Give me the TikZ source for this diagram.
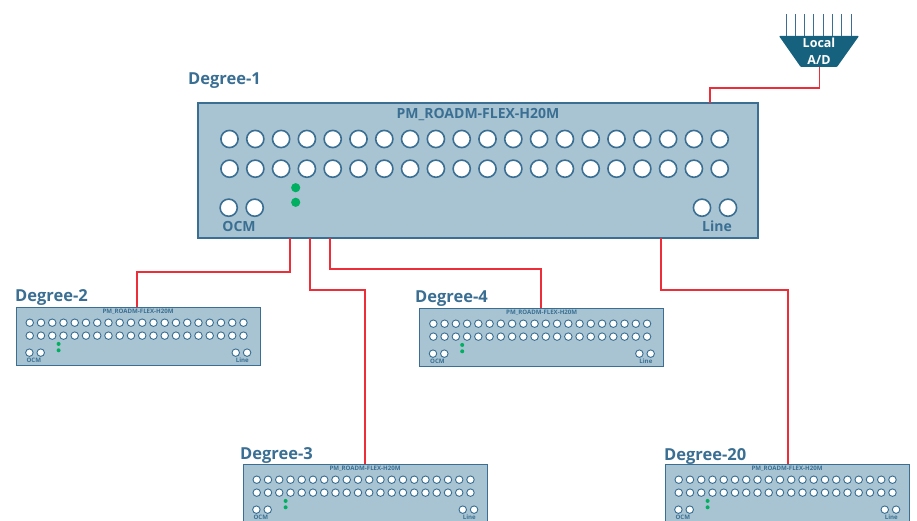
\documentclass[tikz,border=0pt]{standalone}
\usepackage{fontspec}
\setmainfont{Open Sans}
\definecolor{cardfill}{HTML}{A8C4D2}
\definecolor{cardedge}{HTML}{3A6F93}
\definecolor{muxfill}{HTML}{16627E}
\definecolor{fibrered}{HTML}{ED2E38}
\definecolor{ledgreen}{HTML}{00B060}
\tikzset{
  cardbox/.style={draw=cardedge, fill=cardfill, minimum width=560, minimum height=135,
    inner sep=0pt, outer sep=0pt, transform shape},
  cardtext/.style={text=cardedge, font=\fontsize{14}{16}\selectfont\bfseries,
    inner sep=0pt, transform shape},
  degreelabel/.style={anchor=base west, text=cardedge, inner sep=0pt,
    font=\fontsize{16.5}{18}\selectfont\bfseries},
  fibre/.style={draw=fibrered, line width=1.2pt}
}
% one card: name, scale, left, top
\newcommand{\roadmcard}[4]{%
  \begin{scope}[shift={(#3,#4)}, scale=#2]
    \node[cardbox, line width=#2*2pt] (#1) at (280,67.5) {};
    \node[cardtext] (#1title) at (280,11.5) {PM\_ROADM-FLEX-H20M};
    \foreach \i in {0,...,19} {
      \draw[cardedge, fill=white, line width=0.4pt+#2*1.2pt] ({31.5+25.8*\i},36) circle (8.6);
      \draw[cardedge, fill=white, line width=0.4pt+#2*1.2pt] ({31.5+25.8*\i},65.7) circle (8.6);
    }
    \foreach \x in {30.7,56.7,504,530}
      \draw[cardedge, fill=white, line width=0.4pt+#2*1.2pt] (\x,104.7) circle (8.6);
    \fill[ledgreen] (97.7,84.7) circle (4.6);
    \fill[ledgreen] (97.7,99.3) circle (4.6);
    \node[cardtext] (#1ocm) at (41,123) {OCM};
    \node[cardtext] (#1line) at (519,123) {Line};
  \end{scope}
}
\begin{document}
\begin{tikzpicture}[x=1pt, y=-1pt]
  \clip (0,0) rectangle (917,521);
  % cards
  \roadmcard{degone}{1}{198}{103}
  \roadmcard{degtwo}{0.436}{16}{307}
  \roadmcard{degfour}{0.436}{419.6}{308}
  \roadmcard{degthree}{0.436}{243}{464}
  \roadmcard{degtwenty}{0.436}{665}{464}
  \node[degreelabel] (degonelabel) at (188,85) {Degree-1};
  \node[degreelabel] (degtwolabel) at (15,301) {Degree-2};
  \node[degreelabel] (degfourlabel) at (415,302) {Degree-4};
  \node[degreelabel] (degthreelabel) at (240,459) {Degree-3};
  \node[degreelabel] (degtwentylabel) at (664,460) {Degree-20};
  % local add/drop
  \foreach \i in {0,...,7}
    \draw[cardedge, line width=0.8pt] ({786+9.27*\i},14) -- ({786+9.27*\i},36);
  \fill[muxfill, rounded corners=0.8pt] (779,36) -- (859,36) -- (837,67) -- (800.7,67) -- cycle;
  \node[text=white, align=center, inner sep=0pt, font=\fontsize{12.5}{17.5}\selectfont\bfseries]
    (mux) at (819,51.5) {Local\\A/D};
  \coordinate (muxfoot) at (819.5,67);
  % fibres
  \draw[fibre] (muxfoot) -- ++(0,21) -| ([xshift=232pt]degone.north);
  \draw[fibre] ([xshift=-188pt]degone.south) -- ++(0,34) -| ([xshift=-1pt]degtwo.north);
  \draw[fibre] ([xshift=-168pt]degone.south) -- ++(0,52) -| (degthree.north);
  \draw[fibre] ([xshift=-148pt]degone.south) -- ++(0,31) -| ([xshift=-0.6pt]degfour.north);
  \draw[fibre] ([xshift=183pt]degone.south) -- ++(0,52) -| ([xshift=1pt]degtwenty.north);
\end{tikzpicture}
\end{document}
